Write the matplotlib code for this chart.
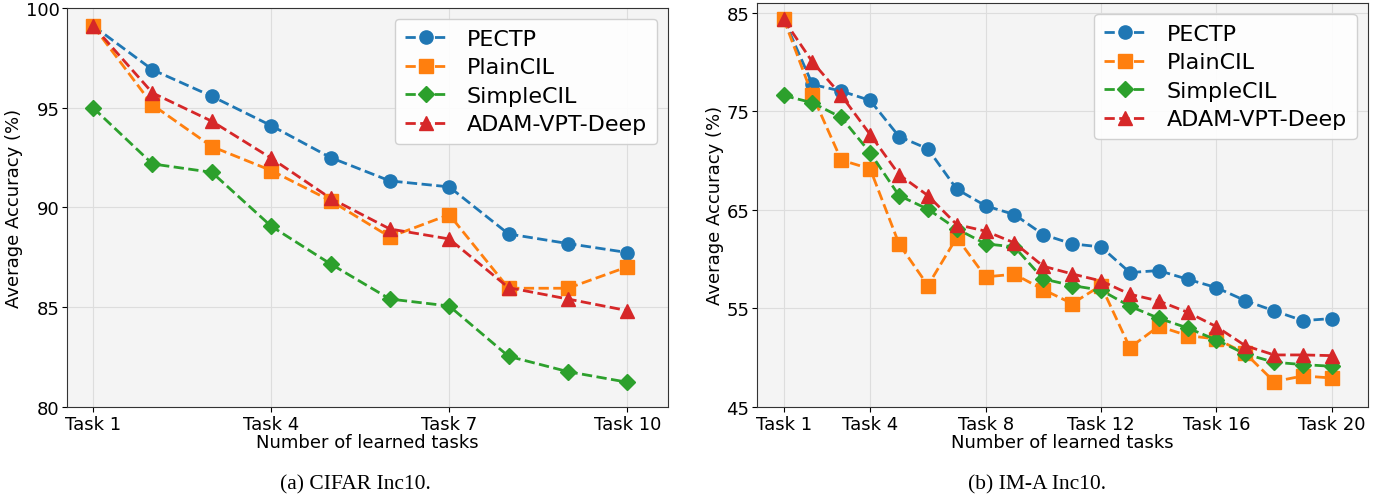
import numpy as np
import matplotlib
matplotlib.use("Agg")
import matplotlib.pyplot as plt

# (a) CIFAR Inc10
cifar_tasks = list(range(1, 11))
cifar_pectp = [99.1, 96.9, 95.57, 94.1, 92.5, 91.33, 91.03, 88.67, 88.19, 87.74]
cifar_plain = [99.1, 95.14, 93.05, 91.85, 90.34, 88.52, 89.64, 85.95, 85.95, 87.02]
cifar_simple = [94.99, 92.18, 91.76, 89.06, 87.17, 85.41, 85.06, 82.54, 81.77, 81.24]
cifar_adam = [99.1, 95.74, 94.32, 92.47, 90.46, 88.92, 88.42, 85.98, 85.41, 84.83]
cifar_ticks = [1, 4, 7, 10]

# (b) IM-A Inc10
ima_tasks = list(range(1, 21))
ima_pectp = [84.39, 77.72, 77.05, 76.1, 72.44, 71.19, 67.1, 65.41, 64.52, 62.49,
             61.55, 61.24, 58.64, 58.84, 57.96, 57.11, 55.79, 54.75, 53.76, 53.97]
ima_plain = [84.39, 76.61, 70.05, 69.16, 61.55, 57.32, 62.19, 58.2, 58.47, 56.91,
             55.49, 57.32, 51.02, 53.19, 52.24, 51.9, 50.45, 47.57, 48.15, 47.94]
ima_simple = [76.61, 75.86, 74.37, 70.79, 66.45, 65.07, 63.07, 61.55, 61.24, 57.99,
              57.32, 56.85, 55.22, 54.0, 53.02, 51.8, 50.38, 49.54, 49.3, 49.13]
ima_adam = [84.32, 80.0, 76.61, 72.64, 68.58, 66.45, 63.51, 62.84, 61.65, 59.28,
            58.5, 57.79, 56.44, 55.76, 54.61, 53.15, 51.22, 50.28, 50.28, 50.21]
ima_ticks = [1, 4, 8, 12, 16, 20]

names = ["PECTP", "PlainCIL", "SimpleCIL", "ADAM-VPT-Deep"]
colors = ["#1f77b4", "#ff7f0e", "#2ca02c", "#d62728"]
markers = ["o", "s", "D", "^"]

fig = plt.figure(figsize=(13.82, 5.02), dpi=100)
ax1 = fig.add_axes([0.0485, 0.1873, 0.435, 0.795])
ax2 = fig.add_axes([0.5478, 0.1873, 0.442, 0.805])


def draw(ax, x, series, ticks, ylim, yticks, xlim):
    ax.set_facecolor("#f4f4f4")
    for s, name, c, m in zip(series, names, colors, markers):
        ax.plot(x, s, linestyle="--", marker=m, color=c, label=name,
                linewidth=2, markersize=9.5 if m != "D" else 8.5)
    ax.set_xticks(ticks)
    ax.set_xticklabels(["Task %d" % t for t in ticks], fontsize=13)
    ax.set_yticks(yticks)
    ax.set_yticklabels([str(v) for v in yticks], fontsize=13)
    ax.set_xlim(*xlim)
    ax.set_ylim(*ylim)
    ax.grid(True, color="#dddddd", linewidth=0.8)
    ax.set_axisbelow(True)
    for sp in ax.spines.values():
        sp.set_color("#333333")
    ax.tick_params(pad=2)
    ax.set_xlabel("Number of learned tasks", fontsize=13, labelpad=0)
    ax.set_ylabel("Average Accuracy (%)", fontsize=13, labelpad=2)
    ax.legend(loc="upper right", fontsize=16, handlelength=1.9, borderpad=0.45,
              labelspacing=0.38, handletextpad=0.9, framealpha=0.9)


draw(ax1, cifar_tasks, [cifar_pectp, cifar_plain, cifar_simple, cifar_adam],
     cifar_ticks, (80, 100), [80, 85, 90, 95, 100], (0.56, 10.69))
draw(ax2, ima_tasks, [ima_pectp, ima_plain, ima_simple, ima_adam],
     ima_ticks, (45, 86), [45, 55, 65, 75, 85], (0.08, 21.25))

fig.text(0.257, 0.025, "(a) CIFAR Inc10.", ha="center", fontsize=15.5,
         family="Liberation Serif")
fig.text(0.75, 0.025, "(b) IM-A Inc10.", ha="center", fontsize=15.5,
         family="Liberation Serif")

fig.savefig("out.png", dpi=100)
